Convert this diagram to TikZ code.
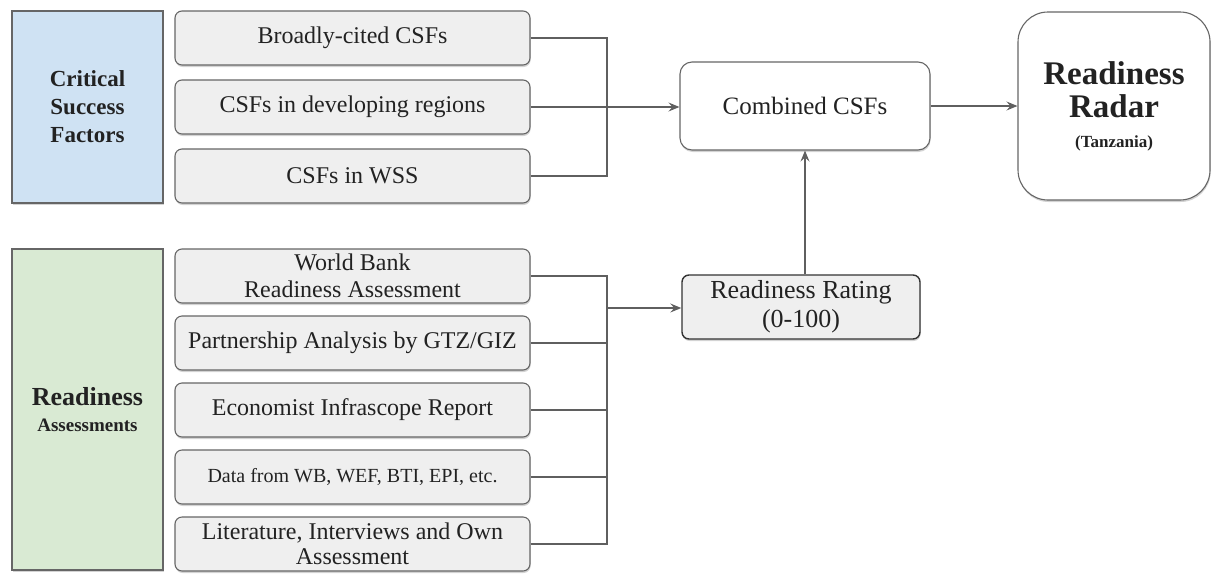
\documentclass[tikz,border=0pt]{standalone}
\usepackage{fontspec}
\setmainfont{Liberation Serif}
\usetikzlibrary{arrows.meta,shadows}
\definecolor{csfblue}{HTML}{CFE2F3}
\definecolor{ragreen}{HTML}{D9EAD3}
\definecolor{boxgray}{HTML}{EFEFEF}
\definecolor{edgegray}{HTML}{666666}
\definecolor{linegray}{HTML}{5F5F5F}
\definecolor{txt}{HTML}{222222}
\tikzset{
  soft/.style={drop shadow={opacity=0.35,shadow xshift=0.6pt,shadow yshift=-2pt}},
  groupbox/.style={draw=edgegray,line width=1.2pt,soft,align=center,text=txt,inner sep=0pt},
  itembox/.style={draw=edgegray,fill=boxgray,line width=1.1pt,rounded corners=7pt,soft,
    minimum width=355pt,minimum height=54pt,align=center,text=txt,font=\fontsize{24}{27}\selectfont,inner sep=0pt},
  wire/.style={draw=linegray,line width=1.2pt},
  arrow/.style={wire,-{Stealth[length=11pt,width=9pt,inset=4pt]}}
}
\begin{document}
\begin{tikzpicture}[x=1pt,y=-1pt]
\useasboundingbox (0,0) rectangle (1223,574);

% group headers
\node[groupbox,fill=csfblue,minimum width=151pt,minimum height=192pt,
  font=\bfseries\fontsize{23}{28}\selectfont] (csf) at (87.5,107)
  {Critical\\Success\\Factors};
\node[groupbox,fill=ragreen,minimum width=151pt,minimum height=321pt,
  font=\bfseries\fontsize{26}{26}\selectfont] (ra) at (87.5,409.5)
  {Readiness\\{\fontsize{19}{22}\selectfont Assessments}};

% critical success factor sources
\node[itembox] (c1) at (352.5,38) {Broadly-cited CSFs};
\node[itembox] (c2) at (352.5,107) {CSFs in developing regions};
\node[itembox] (c3) at (352.5,176) {CSFs in WSS};

% readiness assessment sources
\node[itembox] (r1) at (352.5,276) {World Bank\\Readiness Assessment};
\node[itembox] (r2) at (352.5,343) {Partnership Analysis by GTZ/GIZ};
\node[itembox] (r3) at (352.5,410) {Economist Infrascope Report};
\node[itembox,font=\fontsize{20}{24}\selectfont] (r4) at (352.5,477) {Data from WB, WEF, BTI, EPI, etc.};
\node[itembox,font=\fontsize{24}{25}\selectfont] (r5) at (352.5,544) {Literature, Interviews and Own\\Assessment};

% results
\node[itembox,fill=white,minimum width=250pt,minimum height=88pt,rounded corners=12pt,
  font=\fontsize{25}{28}\selectfont] (comb) at (805,106) {Combined CSFs};
\node[itembox,draw=black!80,line width=1.4pt,minimum width=238pt,minimum height=64pt,
  font=\fontsize{26}{29}\selectfont] (rate) at (801,307) {Readiness Rating\\(0-100)};
\node[itembox,fill=white,minimum width=192pt,minimum height=188pt,rounded corners=30pt,
  font=\bfseries\fontsize{33}{33}\selectfont]
  (radar) at (1114,106)
  {Readiness\\Radar\\[-3pt]{\fontsize{17}{20}\selectfont (Tanzania)}};

% junction points of the two brackets
\coordinate (jc) at (607,107);
\coordinate (jr) at (607,308);

% CSF bracket
\draw[wire] (c1.east) -| (jc);
\draw[wire] (c3.east) -| (jc);
\draw[wire] (c2.east) -- (jc);
\draw[arrow] (jc) -- (comb.west |- jc);

% readiness bracket
\draw[wire] (r1.east) -| (jr);
\draw[wire] (r5.east) -| (jr);
\draw[wire] (r2.east) -- (r2.east -| jr);
\draw[wire] (r3.east) -- (r3.east -| jr);
\draw[wire] (r4.east) -- (r4.east -| jr);
\draw[arrow] (jr) -- (rate.west |- jr);

% flows into the radar
\draw[arrow] (rate.north -| comb.south) -- (comb.south);
\draw[arrow] (comb.east) -- (radar.west |- comb.east);
\end{tikzpicture}
\end{document}
